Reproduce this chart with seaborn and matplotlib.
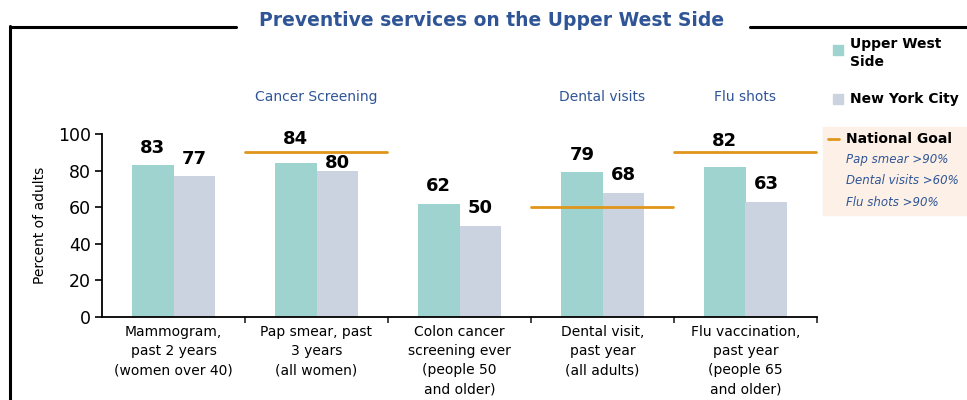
import matplotlib
matplotlib.use("Agg")
import matplotlib.pyplot as plt
import seaborn as sns
import pandas as pd
from matplotlib.lines import Line2D
from matplotlib.patches import Rectangle

categories = ["Mammogram,\npast 2 years\n(women over 40)",
              "Pap smear, past\n3 years\n(all women)",
              "Colon cancer\nscreening ever\n(people 50\nand older)",
              "Dental visit,\npast year\n(all adults)",
              "Flu vaccination,\npast year\n(people 65\nand older)"]
uws = [83, 84, 62, 79, 82]
nyc = [77, 80, 50, 68, 63]
goals = [None, 90, None, 60, 90]
section_labels = {1: "Cancer Screening", 3: "Dental visits", 4: "Flu shots"}
series_names = ["Upper West Side", "New York City"]

sns.set_theme(style="white")
plt.rcParams['font.family'] = ['DejaVu Sans']

BLUE = "#2F5597"
C_UWS = "#9ED3D0"
C_NYC = "#CBD3E0"
ORANGE = "#E0961B"

df = pd.DataFrame({
    "cat": categories * 2,
    "val": uws + nyc,
    "series": [series_names[0]] * 5 + [series_names[1]] * 5,
})

fig = plt.figure(figsize=(9.67, 4.0), dpi=100)
ax = fig.add_axes([102/967, 1-317/400, 715/967, 183/400])
sns.barplot(data=df, x="cat", y="val", hue="series", order=categories,
            hue_order=series_names, palette=[C_UWS, C_NYC], width=0.58,
            gap=0, saturation=1, legend=False, linewidth=0, ax=ax)

# value labels (offset in px above bar top; raised/lowered near the goal lines)
offsets = {(0, 1): 24, (1, 1): 8, (0, 4): 26}
for si, cont in enumerate(ax.containers):
    for ci, patch in enumerate(cont.patches):
        h = patch.get_height()
        x = patch.get_x() + patch.get_width() / 2
        off_px = offsets.get((si, ci), 17.5)
        ax.annotate(f"{h:.0f}", (x, h), xytext=(0, off_px * 0.72), textcoords="offset points",
                    ha="center", va="center", fontsize=13, fontweight="bold", color="black",
                    annotation_clip=False, zorder=6)

ax.set_xlim(-0.5, 4.5)
ax.set_ylim(0, 100)
ax.set_yticks([0, 20, 40, 60, 80, 100])
ax.tick_params(axis="y", labelsize=12.5, length=5, width=1.2, direction="out", left=True, pad=3, colors="black")
ax.set_xticks(range(5))
ax.set_xticklabels(categories, fontsize=10, color="black", linespacing=1.45)
ax.tick_params(axis="x", length=0, pad=6)
ax.set_xticks([0.5, 1.5, 2.5, 3.5, 4.5], minor=True)
ax.tick_params(axis="x", which="minor", length=4, width=1.2, direction="out", bottom=True)
ax.set_xlabel("")
ax.set_ylabel("Percent of adults", fontsize=10, color="black", labelpad=8)
for s in ["top", "right"]:
    ax.spines[s].set_visible(False)
for s in ["left", "bottom"]:
    ax.spines[s].set_color("black")
    ax.spines[s].set_linewidth(1.3)

for i, g in enumerate(goals):
    if g is not None:
        ax.plot([i - 0.5, i + 0.49], [g, g], color=ORANGE, lw=2, clip_on=False, zorder=5)
for i, t in section_labels.items():
    ax.text(i, 120, t, ha="center", va="center", fontsize=10, color=BLUE, clip_on=False)

# frame & title
W, H = 967, 400
def fx(x): return x / W
def fy(y): return 1 - y / H
fig.add_artist(Line2D([fx(10), fx(236)], [fy(27), fy(27)], color="black", lw=2.2))
fig.add_artist(Line2D([fx(750), fx(967)], [fy(27), fy(27)], color="black", lw=2.2))
fig.add_artist(Line2D([fx(10), fx(10)], [fy(26), fy(400)], color="black", lw=2.2))
fig.text(fx(492), fy(20), "Preventive services on the Upper West Side", ha="center", va="center",
         fontsize=13.5, fontweight="bold", color=BLUE)

# legend
fig.add_artist(Rectangle((fx(833), fy(55)), 10/W, 10/H, color=C_UWS))
fig.text(fx(850), fy(53), "Upper West\nSide", ha="left", va="center", fontsize=10,
         fontweight="bold", color="black", linespacing=1.3)
fig.add_artist(Rectangle((fx(833), fy(104)), 10/W, 10/H, color=C_NYC))
fig.text(fx(850), fy(99), "New York City", ha="left", va="center", fontsize=10,
         fontweight="bold", color="black")
fig.add_artist(Rectangle((fx(823), fy(215)), 144/W, 88/H, color="#FDF0E6", zorder=0))
fig.add_artist(Line2D([fx(828), fx(839)], [fy(139), fy(139)], color=ORANGE, lw=2))
fig.text(fx(846), fy(139), "National Goal", ha="left", va="center", fontsize=10,
         fontweight="bold", color="black")
for yy, t in zip([160, 181, 202], ["Pap smear >90%", "Dental visits >60%", "Flu shots >90%"]):
    fig.text(fx(846), fy(yy), t, ha="left", va="center", fontsize=8.5, style="italic", color=BLUE)

fig.savefig("out.png", dpi=100)
